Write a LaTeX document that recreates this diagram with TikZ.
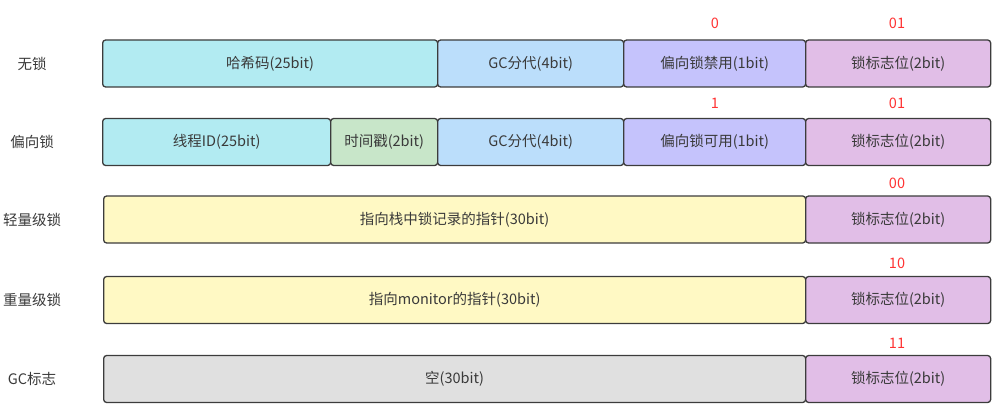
\documentclass[tikz,border=0pt]{standalone}
\usepackage{fontspec}
\setmainfont{Noto Sans CJK SC}
\definecolor{testo}{HTML}{3A3A3A}
\definecolor{bordo}{HTML}{3C3C3C}
\definecolor{rosso}{HTML}{FF3333}
\definecolor{ciano}{HTML}{B2EBF2}
\definecolor{azzurro}{HTML}{BBDEFB}
\definecolor{lilla}{HTML}{C5C3FC}
\definecolor{rosa}{HTML}{E1BEE7}
\definecolor{verde}{HTML}{C8E6C9}
\definecolor{giallo}{HTML}{FFF9C4}
\definecolor{grigio}{HTML}{E0E0E0}
\begin{document}
\begin{tikzpicture}[
    x=1pt, y=-1pt,
    font=\fontsize{14.5}{16}\selectfont,
    cella/.style={draw=bordo,line width=1.3pt,rounded corners=3pt,inner sep=0pt,
                  minimum height=47pt,anchor=west,text=testo},
    stato/.style={text=testo},
    valore/.style={text=rosso}]

  \useasboundingbox (0,0) rectangle (999,420);

  % etichette a sinistra
  \node[stato] (s1) at (32, 63.5) {无锁};
  \node[stato] (s2) at (32,142.0) {偏向锁};
  \node[stato] (s3) at (32,219.5) {轻量级锁};
  \node[stato] (s4) at (32,300.0) {重量级锁};
  \node[stato] (s5) at (32,379.0) {GC标志};

  % riga 1: nessun lock
  \node[cella,fill=ciano,  minimum width=335pt] (hash1) at (102, 63.5) {哈希码(25bit)};
  \node[cella,fill=azzurro,minimum width=186pt] (gc1)   at (437, 63.5) {GC分代(4bit)};
  \node[cella,fill=lilla,  minimum width=182pt] (bias1) at (623, 63.5) {偏向锁禁用(1bit)};
  \node[cella,fill=rosa,   minimum width=185pt] (flag1) at (805, 63.5) {锁标志位(2bit)};

  % riga 2: lock biased
  \node[cella,fill=ciano,  minimum width=228pt] (tid2)  at (102,142.0) {线程ID(25bit)};
  \node[cella,fill=verde,  minimum width=107pt] (ts2)   at (330,142.0) {时间戳(2bit)};
  \node[cella,fill=azzurro,minimum width=186pt] (gc2)   at (437,142.0) {GC分代(4bit)};
  \node[cella,fill=lilla,  minimum width=182pt] (bias2) at (623,142.0) {偏向锁可用(1bit)};
  \node[cella,fill=rosa,   minimum width=185pt] (flag2) at (805,142.0) {锁标志位(2bit)};

  % righe 3-5
  \node[cella,fill=giallo, minimum width=702pt] (ptr3)  at (103,219.5) {指向栈中锁记录的指针(30bit)};
  \node[cella,fill=rosa,   minimum width=185pt] (flag3) at (805,219.5) {锁标志位(2bit)};
  \node[cella,fill=giallo, minimum width=702pt] (ptr4)  at (103,300.0) {指向monitor的指针(30bit)};
  \node[cella,fill=rosa,   minimum width=185pt] (flag4) at (805,300.0) {锁标志位(2bit)};
  \node[cella,fill=grigio, minimum width=702pt] (vuoto5) at (103,379.0) {空(30bit)};
  \node[cella,fill=rosa,   minimum width=185pt] (flag5) at (805,379.0) {锁标志位(2bit)};

  % valori dei bit
  \node[valore] (v1a) at (715, 23) {0};
  \node[valore] (v1b) at (897, 23) {01};
  \node[valore] (v2a) at (715,103) {1};
  \node[valore] (v2b) at (897,103) {01};
  \node[valore] (v3)  at (897,183) {00};
  \node[valore] (v4)  at (897,263) {10};
  \node[valore] (v5)  at (897,343) {11};

\end{tikzpicture}
\end{document}
